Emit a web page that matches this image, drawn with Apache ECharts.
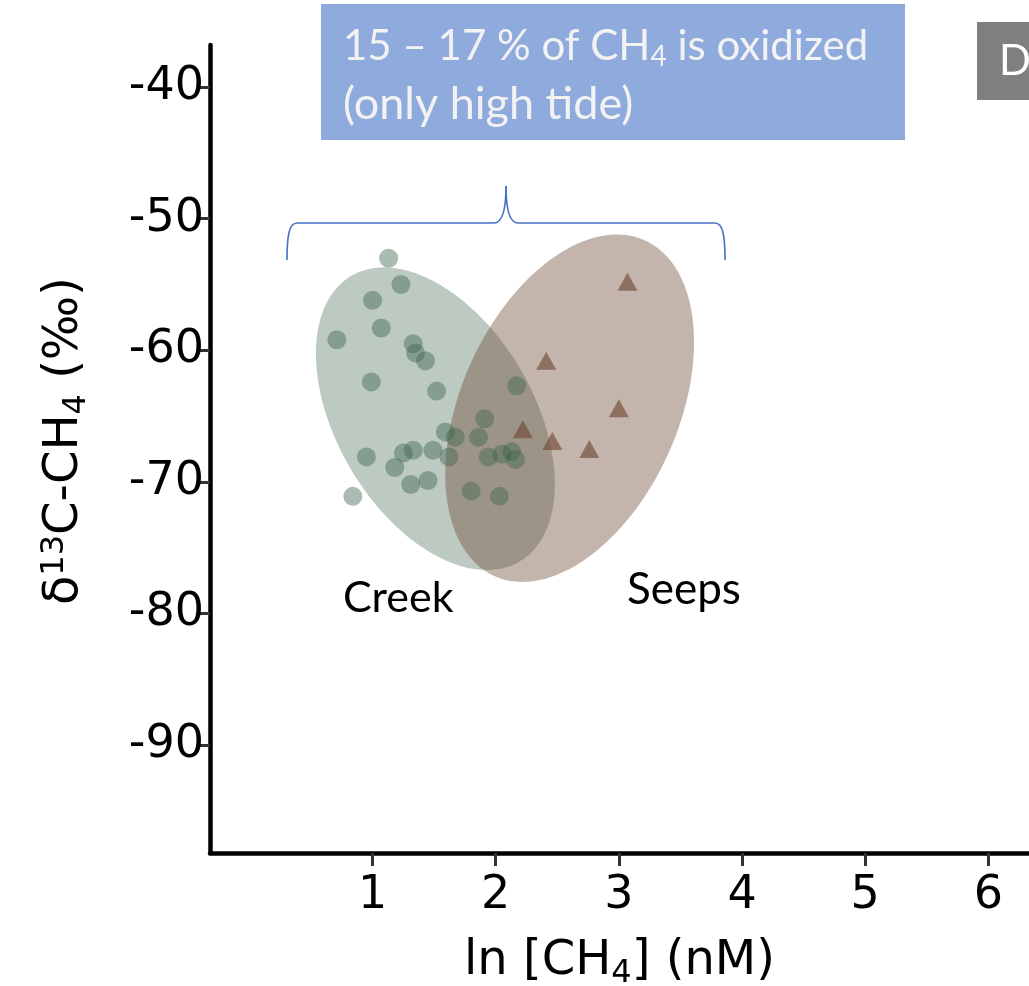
<!DOCTYPE html>
<html>
<head>
<meta charset="utf-8">
<script src="https://cdn.jsdelivr.net/npm/echarts@6/dist/echarts.min.js"></script>
<style>
  html, body { margin: 0; padding: 0; background: #fff; }
  #chart { width: 1029px; height: 986px; }
</style>
</head>
<body>
<div id="chart"></div>
<script>
// tick values
const xTicks = [1, 2, 3, 4, 5, 6];
const yTicks = [-90, -80, -70, -60, -50, -40];

// Creek samples (circles)
const creekX = [1.13, 1.23, 1.00, 1.07, 0.71, 1.33, 1.35, 1.43, 0.99, 1.52,
                2.17, 1.91, 1.59, 1.67, 1.86, 0.95, 1.25, 1.33, 1.49, 1.62,
                1.94, 2.05, 2.13, 2.16, 1.18, 1.45, 1.31, 1.80, 2.03, 0.84];
const creekY = [-53.0, -55.0, -56.2, -58.3, -59.2, -59.5, -60.2, -60.8, -62.4, -63.1,
                -62.7, -65.2, -66.2, -66.6, -66.6, -68.1, -67.8, -67.6, -67.6, -68.1,
                -68.1, -67.9, -67.7, -68.3, -68.9, -69.9, -70.2, -70.7, -71.1, -71.1];

// Seep samples (triangles)
const seepX = [3.07, 2.41, 3.00, 2.22, 2.46, 2.76];
const seepY = [-54.8, -60.8, -64.4, -66.0, -66.9, -67.5];

// group ellipses: centre, half extent in x and y, correlation
const ellipseCx = [1.51, 2.60];
const ellipseCy = [-65.2, -64.4];
const ellipseHx = [0.97, 1.01];
const ellipseHy = [11.5, 13.2];
const ellipseR = [-0.43, 0.38];
const ellipseFill = ['rgba(88,122,102,0.4)', 'rgba(108,70,48,0.4)'];

const chart = echarts.init(document.getElementById('chart'));

const numFont = 'DejaVu Sans';
const noteFont = 'Lato';
const braceStyle = { fill: null, stroke: '#4472c4', lineWidth: 1.6 };

function ellipseItem(params, api) {
  const i = params.dataIndex;
  const cx = ellipseCx[i], cy = ellipseCy[i];
  const hx = ellipseHx[i], hy = ellipseHy[i], r = ellipseR[i];
  const s = Math.sqrt(1 - r * r);
  const pts = [];
  for (let k = 0; k < 160; k++) {
    const t = (2 * Math.PI * k) / 160;
    const x = cx + hx * Math.cos(t);
    const y = cy + hy * (r * Math.cos(t) + s * Math.sin(t));
    pts.push(api.coord([x, y]));
  }
  return {
    type: 'polygon',
    shape: { points: pts },
    style: { fill: ellipseFill[i] }
  };
}

chart.setOption({
  animation: false,
  grid: { left: 210, right: 0, top: 45, bottom: 133, containLabel: false, outerBoundsMode: 'none' },
  xAxis: {
    type: 'value',
    min: -0.32,
    max: 6.33,
    name: '{a|ln [CH}{b|4}{a|] (nM)}',
    nameLocation: 'middle',
    nameGap: 82,
    nameTextStyle: {
      rich: {
        a: { fontFamily: numFont, fontSize: 48, color: '#000', lineHeight: 54 },
        b: { fontFamily: numFont, fontSize: 32, color: '#000', lineHeight: 54, padding: [24, 0, 0, 0] }
      }
    },
    axisLine: { show: true, onZero: false, lineStyle: { color: '#000', width: 4.5 } },
    axisTick: { show: true, customValues: xTicks, length: 13, lineStyle: { color: '#333', width: 3 } },
    axisLabel: { customValues: xTicks, fontFamily: numFont, fontSize: 46, color: '#000', margin: 20 },
    splitLine: { show: false }
  },
  yAxis: {
    type: 'value',
    min: -98.2,
    max: -36.8,
    name: '{a|δ}{c|13}{a|C-CH}{b|4}{a| (‰)}',
    nameLocation: 'middle',
    nameGap: 118,
    nameRotate: 90,
    nameTextStyle: {
      padding: [0, 0, 0, 16],
      rich: {
        a: { fontFamily: numFont, fontSize: 48, color: '#000', lineHeight: 54 },
        b: { fontFamily: numFont, fontSize: 32, color: '#000', lineHeight: 54, padding: [24, 0, 0, 0] },
        c: { fontFamily: numFont, fontSize: 32, color: '#000', lineHeight: 54, padding: [0, 0, 20, 0] }
      }
    },
    axisLine: { show: true, onZero: false, lineStyle: { color: '#000', width: 4.5 } },
    axisTick: { show: true, customValues: yTicks, length: 13, lineStyle: { color: '#333', width: 3 } },
    axisLabel: { customValues: yTicks, fontFamily: numFont, fontSize: 46, color: '#000', margin: 6 },
    splitLine: { show: false }
  },
  series: [
    {
      type: 'custom',
      name: 'ellipses',
      renderItem: ellipseItem,
      data: ellipseCx.map((c, i) => [c, ellipseCy[i]]),
      silent: true,
      z: 1
    },
    {
      type: 'scatter',
      name: 'Creek',
      symbol: 'circle',
      symbolSize: 19,
      itemStyle: { color: 'rgba(62,100,78,0.55)' },
      data: creekX.map((x, i) => [x, creekY[i]]),
      z: 3
    },
    {
      type: 'scatter',
      name: 'Seeps',
      symbol: 'triangle',
      symbolSize: [20, 18],
      itemStyle: { color: 'rgba(110,70,50,0.78)' },
      data: seepX.map((x, i) => [x, seepY[i]]),
      z: 3
    }
  ],
  graphic: [
    // annotation box
    { type: 'rect', x: 321, y: 4, shape: { x: 0, y: 0, width: 584, height: 136 }, style: { fill: '#8faadc' }, z: 10 },
    {
      type: 'text', x: 343, y: 46, z: 11,
      style: {
        text: '{a|15 – 17 % of CH}{b|4}{a| is oxidized}',
        verticalAlign: 'middle',
        rich: {
          a: { fontFamily: noteFont, fontSize: 42, fill: '#f2f2f2', lineHeight: 52 },
          b: { fontFamily: noteFont, fontSize: 28, fill: '#f2f2f2', lineHeight: 52, padding: [22, 0, 0, 0] }
        }
      }
    },
    {
      type: 'text', x: 343, y: 104, z: 11,
      style: { text: '(only high tide)', fontFamily: noteFont, fontSize: 45, fill: '#f2f2f2', verticalAlign: 'middle' }
    },
    // panel tag
    { type: 'rect', x: 977, y: 22, shape: { x: 0, y: 0, width: 60, height: 78 }, style: { fill: '#7f7f7f' }, z: 10 },
    {
      type: 'text', x: 999, y: 61, z: 11,
      style: { text: 'D', fontFamily: noteFont, fontSize: 42, fill: '#ffffff', verticalAlign: 'middle' }
    },
    // curly bracket
    { type: 'bezierCurve', z: 10, shape: { x1: 287, y1: 260, cpx1: 287, cpy1: 236, cpx2: 289, cpy2: 223, x2: 297, y2: 223 }, style: braceStyle },
    { type: 'line', z: 10, shape: { x1: 297, y1: 223, x2: 494, y2: 223 }, style: braceStyle },
    { type: 'bezierCurve', z: 10, shape: { x1: 494, y1: 223, cpx1: 502, cpy1: 223, cpx2: 506, cpy2: 212, x2: 506, y2: 186 }, style: braceStyle },
    { type: 'bezierCurve', z: 10, shape: { x1: 506, y1: 186, cpx1: 506, cpy1: 212, cpx2: 510, cpy2: 223, x2: 518, y2: 223 }, style: braceStyle },
    { type: 'line', z: 10, shape: { x1: 518, y1: 223, x2: 715, y2: 223 }, style: braceStyle },
    { type: 'bezierCurve', z: 10, shape: { x1: 715, y1: 223, cpx1: 723, cpy1: 223, cpx2: 725, cpy2: 236, x2: 725, y2: 260 }, style: braceStyle },
    // group labels
    {
      type: 'text', x: 343, y: 598, z: 11,
      style: { text: 'Creek', fontFamily: noteFont, fontSize: 43, fill: '#000', verticalAlign: 'middle' }
    },
    {
      type: 'text', x: 627, y: 590, z: 11,
      style: { text: 'Seeps', fontFamily: noteFont, fontSize: 44, fill: '#000', verticalAlign: 'middle' }
    }
  ]
});
</script>
</body>
</html>
